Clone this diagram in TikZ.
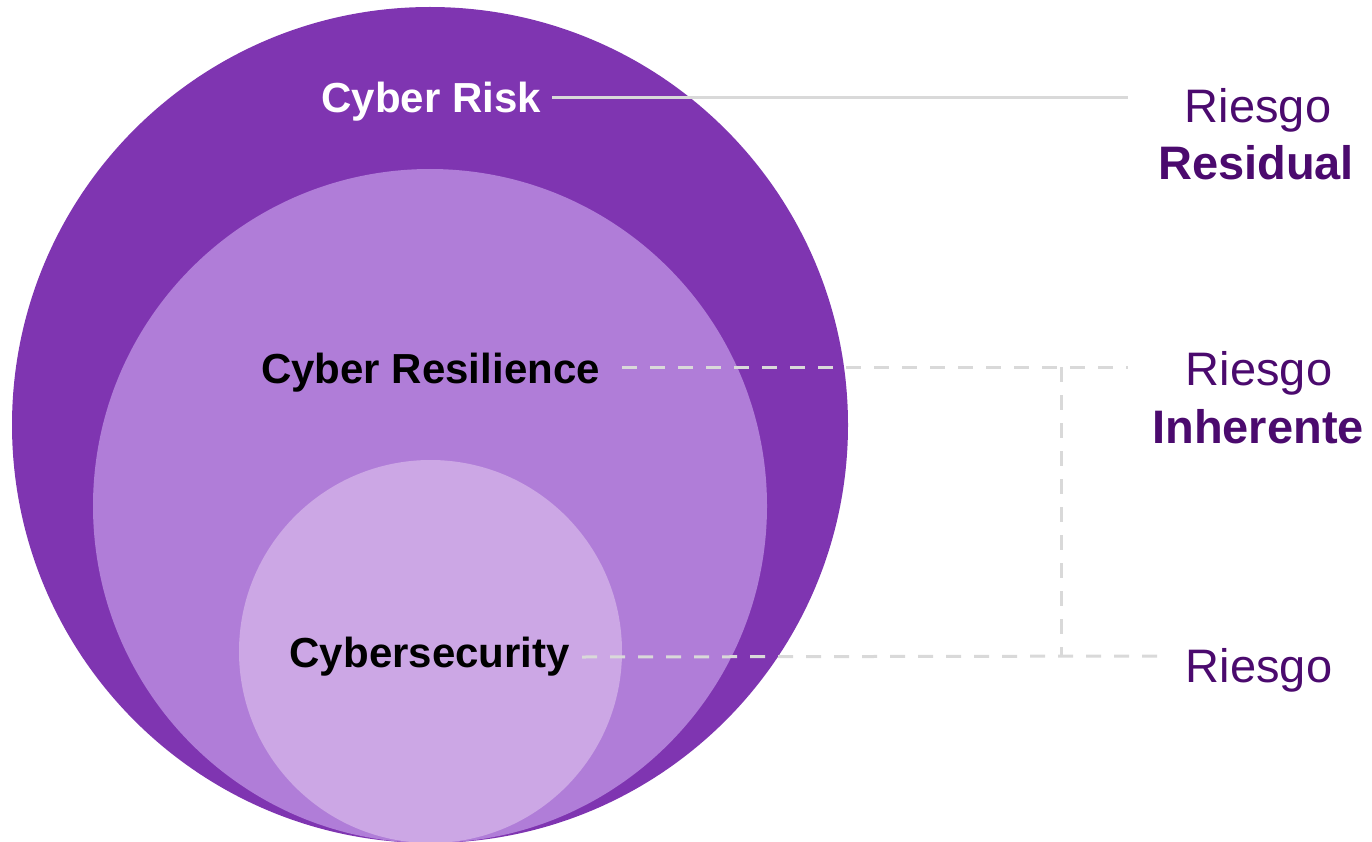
\documentclass[tikz,border=0pt]{standalone}
\usepackage{fontspec}
\setmainfont{Liberation Sans}
\definecolor{outerc}{HTML}{7F35B1}
\definecolor{midc}{HTML}{B07DD8}
\definecolor{innerc}{HTML}{CCA7E5}
\definecolor{txtc}{HTML}{4B0A6E}
\definecolor{linec}{HTML}{D9D9D9}
\tikzset{
  lbl/.style={inner sep=0pt, font=\fontsize{42}{48}\selectfont\bfseries},
  rlbl/.style={inner sep=0pt, text=txtc, font=\fontsize{47}{54}\selectfont},
  rlblb/.style={inner sep=0pt, text=txtc, font=\fontsize{47}{54}\selectfont\bfseries},
  conn/.style={draw=linec, line width=3pt},
  dconn/.style={conn, dash pattern=on 15pt off 13pt},
}
\begin{document}
\begin{tikzpicture}[x=1pt,y=-1pt]
\useasboundingbox (0,0) rectangle (1372,842);
\begin{scope}
\clip (0,0) rectangle (1372,842);
\fill[outerc] (430,425) circle[radius=418];
\fill[midc] (430,506) circle[radius=337];
\fill[innerc] (430.5,651.5) circle[radius=191.5];
\end{scope}
% labels
\node[lbl, text=white, anchor=base east] (risk) at (541,113) {Cyber Risk};
\node[lbl, text=black, anchor=base east] (resil) at (600,383) {Cyber Resilience};
\node[lbl, text=black, anchor=base east] (sec) at (570,667) {Cybersecurity};
% right labels
\node[rlbl, anchor=base] (r1) at (1258,123) {Riesgo};
\node[rlblb, anchor=base] (r1b) at (1256,180) {Residual};
\node[rlbl, anchor=base] (r2) at (1259,385) {Riesgo};
\node[rlblb, anchor=base] (r2b) at (1258,443) {Inherente};
\node[rlbl, anchor=base] (r3) at (1259,682) {Riesgo};
% connectors
\coordinate (e1) at (1128,98);
\coordinate (e2) at (1128,367);
\coordinate (e3) at (1158,656);
\coordinate (v1) at (1061,367);
\coordinate (v2) at (1061,656);
\draw[conn] (552,98) -- (e1);
\draw[dconn] (622,367) -- (e2);
\draw[dconn] (582,657) -- (e3);
\draw[dconn] (v1) -- (v2);
\end{tikzpicture}
\end{document}
